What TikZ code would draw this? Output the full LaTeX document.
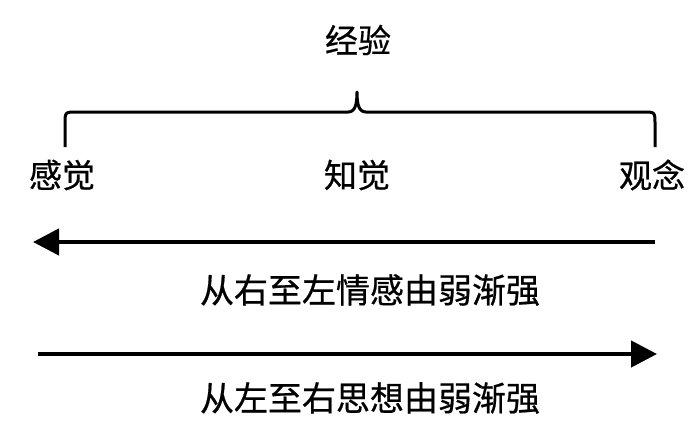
\documentclass[tikz,border=0pt]{standalone}
\usepackage{fontspec}
\newfontfamily\cjk[FakeBold=0.6]{Noto Sans CJK SC}
\usetikzlibrary{arrows.meta}
\begin{document}
\begin{tikzpicture}[x=1pt,y=-1pt,
  lbl/.style={font=\cjk\fontsize{33}{36}\selectfont, inner sep=0pt},
  txt/.style={font=\cjk\fontsize{34}{37}\selectfont, inner sep=0pt},
  arr/.style={line width=4.5pt, -{Triangle[length=26pt,width=26pt]}}]
\useasboundingbox (0,0) rectangle (700,420);
\node[lbl] (jy) at (358,40) {经验};
\node[lbl] (gj) at (62,175) {感觉};
\node[lbl] (zj) at (357,175) {知觉};
\node[lbl] (gn) at (652,175) {观念};
\draw[line width=3pt, line join=round]
  (65,147) -- (65,124) .. controls (65,112) .. (77,112) -- (348,112)
  .. controls (355,112) and (357,105) .. (357,92)
  .. controls (357,105) and (359,112) .. (366,112) -- (643,112)
  .. controls (655,112) .. (655,124) -- (655,147);
\coordinate (a1s) at (655,242);
\coordinate (a1e) at (33,242);
\coordinate (a2s) at (38,354);
\coordinate (a2e) at (657,354);
\draw[arr] (a1s) -- (a1e);
\draw[arr] (a2s) -- (a2e);
\node[txt] (t1) at (370,290) {从右至左情感由弱渐强};
\node[txt] (t2) at (370,398) {从左至右思想由弱渐强};
\end{tikzpicture}
\end{document}
